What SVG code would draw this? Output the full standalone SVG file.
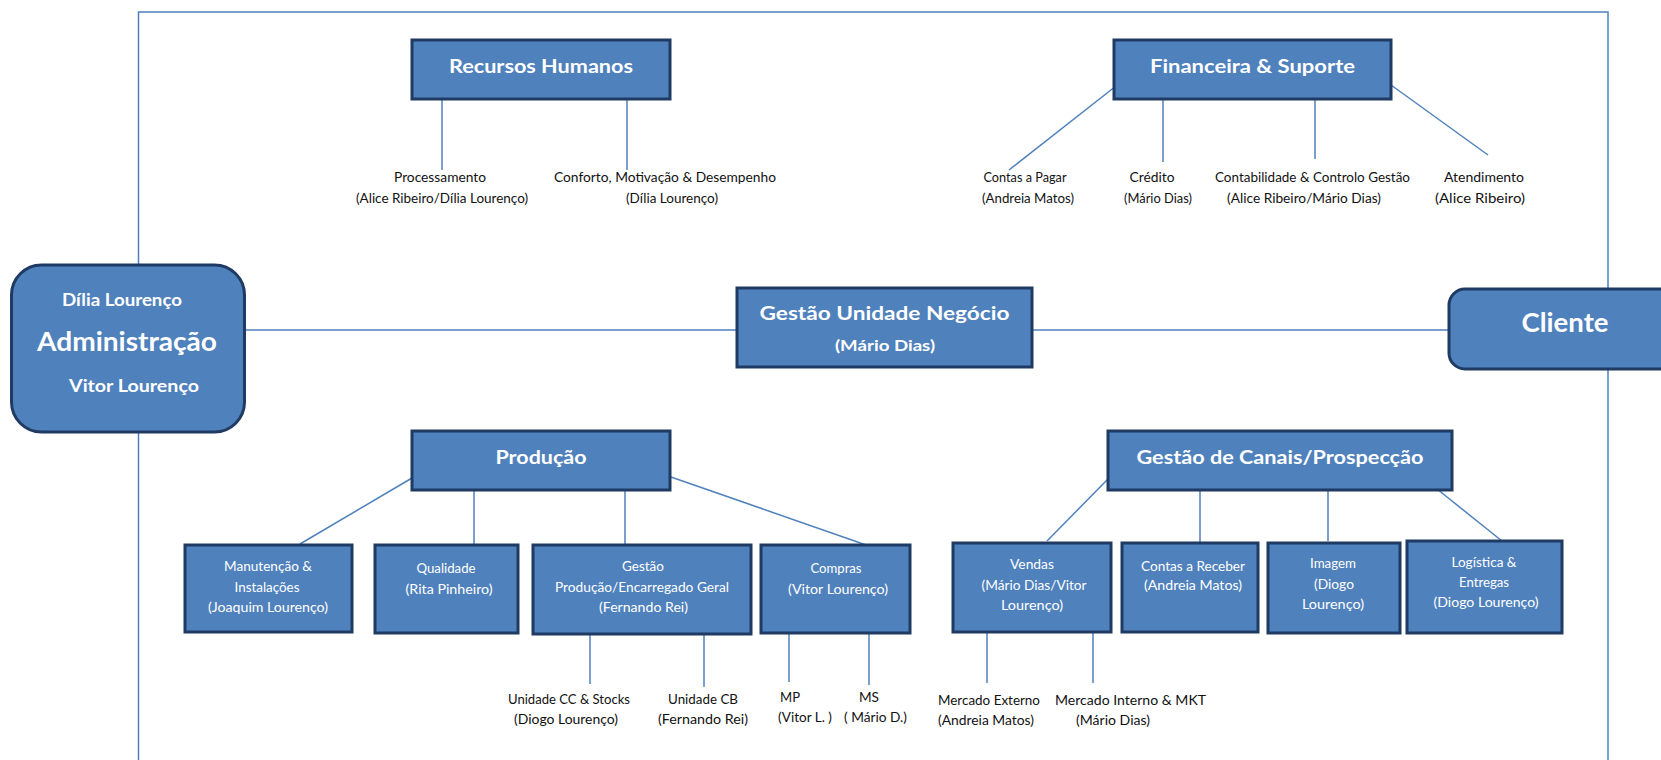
<svg xmlns="http://www.w3.org/2000/svg" width="1661" height="760" viewBox="0 0 1661 760">
  <style>
    .box { fill: #4F81BD; stroke: #1F3B63; stroke-width: 3; }
    .ln { stroke: #4F81BD; stroke-width: 1.5; fill: none; }
    text { font-family: Lato, "Liberation Sans", Arial, sans-serif; text-anchor: middle; }
    .h { fill: #ffffff; font-weight: bold; font-size: 19px; }
    .w { fill: #ffffff; font-size: 13px; }
    .k { fill: #111111; font-size: 13px; }
  </style>
  <rect width="1661" height="760" fill="#ffffff"/>

  <!-- frame and connectors -->
  <g id="connectors">
    <polyline class="ln" points="138.5,760 138.5,12 1608,12 1608,760"/>
    <line class="ln" x1="245" y1="330" x2="737" y2="330"/>
    <line class="ln" x1="1032" y1="330" x2="1449" y2="330"/>
    <!-- Recursos Humanos -->
    <line class="ln" x1="442" y1="99" x2="442" y2="170"/>
    <line class="ln" x1="627" y1="99" x2="627" y2="170"/>
    <!-- Financeira & Suporte -->
    <line class="ln" x1="1116" y1="86" x2="1009" y2="170"/>
    <line class="ln" x1="1163" y1="99" x2="1163" y2="162"/>
    <line class="ln" x1="1315" y1="99" x2="1315" y2="159"/>
    <line class="ln" x1="1391" y1="85" x2="1488" y2="155"/>
    <!-- Produção -->
    <line class="ln" x1="412" y1="478" x2="300" y2="544"/>
    <line class="ln" x1="474" y1="490" x2="474" y2="545"/>
    <line class="ln" x1="625" y1="490" x2="625" y2="545"/>
    <line class="ln" x1="671" y1="477" x2="869" y2="546"/>
    <line class="ln" x1="590" y1="635" x2="590" y2="684"/>
    <line class="ln" x1="704" y1="635" x2="704" y2="687"/>
    <line class="ln" x1="789" y1="634" x2="789" y2="682"/>
    <line class="ln" x1="869" y1="634" x2="869" y2="685"/>
    <!-- Gestão de Canais -->
    <line class="ln" x1="1108" y1="479" x2="1047" y2="541"/>
    <line class="ln" x1="1200" y1="490" x2="1200" y2="543"/>
    <line class="ln" x1="1328" y1="490" x2="1328" y2="541"/>
    <line class="ln" x1="1437" y1="489" x2="1502" y2="541"/>
    <line class="ln" x1="987" y1="633" x2="987" y2="683"/>
    <line class="ln" x1="1093" y1="633" x2="1093" y2="683"/>
  </g>

  <g id="administracao">
    <rect class="box" x="11.5" y="265" width="233" height="167" rx="30"/>
    <text class="h" x="122" y="306" style="font-size:16.5px" textLength="120" lengthAdjust="spacingAndGlyphs">Dília Lourenço</text>
    <text class="h" x="127" y="351" style="font-size:26px" textLength="180" lengthAdjust="spacingAndGlyphs">Administração</text>
    <text class="h" x="134" y="392" style="font-size:16.5px" textLength="130" lengthAdjust="spacingAndGlyphs">Vitor Lourenço</text>
  </g>

  <g id="cliente">
    <rect class="box" x="1449" y="289" width="260" height="80" rx="16"/>
    <text class="h" x="1565" y="331.5" style="font-size:27px" textLength="87" lengthAdjust="spacingAndGlyphs">Cliente</text>
  </g>

  <g id="gestao-unidade">
    <rect class="box" x="737" y="288" width="295" height="79"/>
    <text class="h" x="884.5" y="320" textLength="250" lengthAdjust="spacingAndGlyphs">Gestão Unidade Negócio</text>
    <text class="h" x="885" y="351" style="font-size:16px" textLength="100" lengthAdjust="spacingAndGlyphs">(Mário Dias)</text>
  </g>

  <g id="recursos-humanos">
    <rect class="box" x="412" y="40" width="258" height="59"/>
    <text class="h" x="541" y="73" textLength="184" lengthAdjust="spacingAndGlyphs">Recursos Humanos</text>
  </g>
  <g id="rh-processamento">
    <text class="k" x="440" y="182" textLength="92" lengthAdjust="spacingAndGlyphs">Processamento</text>
    <text class="k" x="442" y="203" textLength="172" lengthAdjust="spacingAndGlyphs">(Alice Ribeiro/Dília Lourenço)</text>
  </g>
  <g id="rh-conforto">
    <text class="k" x="665" y="182" textLength="222" lengthAdjust="spacingAndGlyphs">Conforto, Motivação &amp; Desempenho</text>
    <text class="k" x="672" y="203" textLength="92" lengthAdjust="spacingAndGlyphs">(Dília Lourenço)</text>
  </g>

  <g id="financeira">
    <rect class="box" x="1114" y="40" width="277" height="59"/>
    <text class="h" x="1252.5" y="73" textLength="205" lengthAdjust="spacingAndGlyphs">Financeira &amp; Suporte</text>
  </g>
  <g id="fin-contas-pagar">
    <text class="k" x="1025" y="182" textLength="83" lengthAdjust="spacingAndGlyphs">Contas a Pagar</text>
    <text class="k" x="1028" y="203" textLength="92" lengthAdjust="spacingAndGlyphs">(Andreia Matos)</text>
  </g>
  <g id="fin-credito">
    <text class="k" x="1152" y="182" textLength="45" lengthAdjust="spacingAndGlyphs">Crédito</text>
    <text class="k" x="1158" y="203" textLength="68" lengthAdjust="spacingAndGlyphs">(Mário Dias)</text>
  </g>
  <g id="fin-contabilidade">
    <text class="k" x="1312.5" y="182" textLength="195" lengthAdjust="spacingAndGlyphs">Contabilidade &amp; Controlo Gestão</text>
    <text class="k" x="1304" y="203" textLength="154" lengthAdjust="spacingAndGlyphs">(Alice Ribeiro/Mário Dias)</text>
  </g>
  <g id="fin-atendimento">
    <text class="k" x="1484" y="182" textLength="80" lengthAdjust="spacingAndGlyphs">Atendimento</text>
    <text class="k" x="1480" y="203" textLength="90" lengthAdjust="spacingAndGlyphs">(Alice Ribeiro)</text>
  </g>

  <g id="producao">
    <rect class="box" x="412" y="431" width="258" height="59"/>
    <text class="h" x="541" y="464" textLength="91" lengthAdjust="spacingAndGlyphs">Produção</text>
  </g>
  <g id="manutencao">
    <rect class="box" x="185" y="545" width="167" height="87"/>
    <text class="w" x="268" y="571" textLength="88" lengthAdjust="spacingAndGlyphs">Manutenção &amp;</text>
    <text class="w" x="267" y="591.5" textLength="65" lengthAdjust="spacingAndGlyphs">Instalações</text>
    <text class="w" x="268" y="612" textLength="120" lengthAdjust="spacingAndGlyphs">(Joaquim Lourenço)</text>
  </g>
  <g id="qualidade">
    <rect class="box" x="375" y="545" width="143" height="88"/>
    <text class="w" x="446" y="572.5" textLength="59" lengthAdjust="spacingAndGlyphs">Qualidade</text>
    <text class="w" x="449" y="593.5" textLength="87" lengthAdjust="spacingAndGlyphs">(Rita Pinheiro)</text>
  </g>
  <g id="gestao-producao">
    <rect class="box" x="533" y="545" width="218" height="89"/>
    <text class="w" x="643" y="571" textLength="42" lengthAdjust="spacingAndGlyphs">Gestão</text>
    <text class="w" x="642" y="591.5" textLength="174" lengthAdjust="spacingAndGlyphs">Produção/Encarregado  Geral</text>
    <text class="w" x="643.5" y="612" textLength="89" lengthAdjust="spacingAndGlyphs">(Fernando Rei)</text>
  </g>
  <g id="compras">
    <rect class="box" x="761" y="545" width="149" height="88"/>
    <text class="w" x="836" y="572.5" textLength="51" lengthAdjust="spacingAndGlyphs">Compras</text>
    <text class="w" x="838" y="593.5" textLength="100" lengthAdjust="spacingAndGlyphs">(Vitor Lourenço)</text>
  </g>
  <g id="unidade-cc">
    <text class="k" x="569" y="703.5" textLength="122" lengthAdjust="spacingAndGlyphs">Unidade CC &amp; Stocks</text>
    <text class="k" x="566" y="723.5" textLength="104" lengthAdjust="spacingAndGlyphs">(Diogo Lourenço)</text>
  </g>
  <g id="unidade-cb">
    <text class="k" x="703" y="703.5" textLength="70" lengthAdjust="spacingAndGlyphs">Unidade CB</text>
    <text class="k" x="703" y="723.5" textLength="90" lengthAdjust="spacingAndGlyphs">(Fernando Rei)</text>
  </g>
  <g id="compras-mp">
    <text class="k" x="790" y="701.5" textLength="20" lengthAdjust="spacingAndGlyphs">MP</text>
    <text class="k" x="805" y="722" textLength="54" lengthAdjust="spacingAndGlyphs">(Vitor L. )</text>
  </g>
  <g id="compras-ms">
    <text class="k" x="869" y="701.5" textLength="20" lengthAdjust="spacingAndGlyphs">MS</text>
    <text class="k" x="875.5" y="722" textLength="63" lengthAdjust="spacingAndGlyphs">( Mário D.)</text>
  </g>

  <g id="gestao-canais">
    <rect class="box" x="1108" y="431" width="344" height="59"/>
    <text class="h" x="1280" y="464" textLength="287" lengthAdjust="spacingAndGlyphs">Gestão de Canais/Prospecção</text>
  </g>
  <g id="vendas">
    <rect class="box" x="953" y="543" width="158" height="89"/>
    <text class="w" x="1032" y="569" textLength="44" lengthAdjust="spacingAndGlyphs">Vendas</text>
    <text class="w" x="1034" y="590" textLength="105" lengthAdjust="spacingAndGlyphs">(Mário Dias/Vitor</text>
    <text class="w" x="1032" y="610" textLength="62" lengthAdjust="spacingAndGlyphs">Lourenço)</text>
  </g>
  <g id="contas-receber">
    <rect class="box" x="1122" y="543" width="136" height="89"/>
    <text class="w" x="1193" y="571" textLength="104" lengthAdjust="spacingAndGlyphs">Contas a Receber</text>
    <text class="w" x="1193" y="590" textLength="98" lengthAdjust="spacingAndGlyphs">(Andreia Matos)</text>
  </g>
  <g id="imagem">
    <rect class="box" x="1268" y="543" width="132" height="90"/>
    <text class="w" x="1333" y="568" textLength="46" lengthAdjust="spacingAndGlyphs">Imagem</text>
    <text class="w" x="1334" y="589" textLength="40" lengthAdjust="spacingAndGlyphs">(Diogo</text>
    <text class="w" x="1333" y="609" textLength="62" lengthAdjust="spacingAndGlyphs">Lourenço)</text>
  </g>
  <g id="logistica">
    <rect class="box" x="1407" y="541" width="155" height="92"/>
    <text class="w" x="1484" y="567" textLength="65" lengthAdjust="spacingAndGlyphs">Logística &amp;</text>
    <text class="w" x="1484" y="587" textLength="50" lengthAdjust="spacingAndGlyphs">Entregas</text>
    <text class="w" x="1486" y="607" textLength="105" lengthAdjust="spacingAndGlyphs">(Diogo Lourenço)</text>
  </g>
  <g id="mercado-externo">
    <text class="k" x="989" y="705" textLength="102" lengthAdjust="spacingAndGlyphs">Mercado Externo</text>
    <text class="k" x="986" y="725" textLength="96" lengthAdjust="spacingAndGlyphs">(Andreia Matos)</text>
  </g>
  <g id="mercado-interno">
    <text class="k" x="1130.5" y="705" textLength="151" lengthAdjust="spacingAndGlyphs">Mercado Interno &amp;  MKT</text>
    <text class="k" x="1113" y="725" textLength="74" lengthAdjust="spacingAndGlyphs">(Mário Dias)</text>
  </g>
</svg>
